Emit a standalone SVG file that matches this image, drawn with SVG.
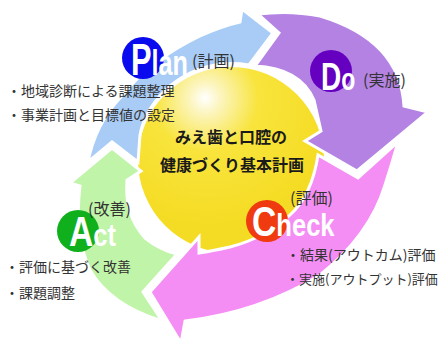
<svg xmlns="http://www.w3.org/2000/svg" width="439" height="344" viewBox="0 0 439 344">
<defs>
<radialGradient id="yg" gradientUnits="userSpaceOnUse" cx="207" cy="100" r="125" fx="205" fy="98">
<stop offset="0" stop-color="#ffffff"/>
<stop offset="0.12" stop-color="#fcf5c0"/>
<stop offset="0.42" stop-color="#f8e43c"/>
<stop offset="1" stop-color="#f5dc24"/>
</radialGradient>
</defs>
<style>
.arr{stroke:#ffffff;stroke-width:3;stroke-linejoin:miter}
.jp{font-family:"Noto Sans CJK JP","Noto Sans CJK SC",sans-serif;fill:#333333}
.lst{font-size:14px}
.sub{font-size:16px}
.ttl{font-family:"Noto Sans CJK JP","Noto Sans CJK SC",sans-serif;font-size:16px;font-weight:bold;fill:#1a1a1a;text-anchor:middle}
.big{font-family:"Liberation Sans",Arial,sans-serif;font-weight:bold;fill:#ffffff}
</style>
<rect width="439" height="344" fill="#ffffff"/>
<g id="center">
<circle cx="231" cy="160" r="93" fill="url(#yg)"/>
</g>
<g id="connectors">
<path id="arrow-plan" class="arr" fill="#a8ccf6" d="M242,9 L273,33 L249,65 Q205,58 170,86 Q145,108 140,135 L138,162 L112,142 L88,162 Q95,125 120,98 Q150,60 200,36 Q222,26 240,22 Z"/>
<path id="arrow-do" class="arr" fill="#b382e3" d="M258,14 Q290,10 320,16 Q400,40 404,106 L428,112 L357,171 L305,141 L321,131 L314,100 Q300,68 255,66 L279,33 Z"/>
<path id="arrow-check" class="arr" fill="#f48ef4" d="M398,142 L358,178 L318,155 Q312,195 290,215 Q265,238 230,247 Q212,251 199,253 L199,237 L150,292 L181,343 L185,321 Q260,312 320,275 Q370,235 385,185 Q393,160 398,142 Z"/>
<path id="arrow-act" class="arr" fill="#c0f4a8" d="M112,148 L141,171 L127,180 Q124,215 145,238 Q160,250 177,254 L143,292 L162,321 Q110,305 90,270 Q74,235 80,186 L70,183 Z"/>
</g>
<g id="center-title">
<text class="ttl" x="231" y="143">みえ歯と口腔の</text>
<text class="ttl" x="232" y="171">健康づくり基本計画</text>
</g>
<g id="plan">
<circle cx="143" cy="58" r="21" fill="#0a0aee"/>
<text class="big" transform="translate(131,75) scale(0.7,1)"><tspan font-size="44">P</tspan><tspan font-size="36">lan</tspan></text>
<text class="jp sub" x="192" y="67">(計画)</text>
<text class="jp lst" x="7" y="96">・地域診断による課題整理</text>
<text class="jp lst" x="7" y="120">・事業計画と目標値の設定</text>
</g>
<g id="do">
<circle cx="331" cy="71" r="21" fill="#6600c0"/>
<text class="big" transform="translate(321,90) scale(0.72,1)"><tspan font-size="39">D</tspan><tspan font-size="32">o</tspan></text>
<text class="jp sub" x="363" y="86">(実施)</text>
</g>
<g id="check">
<circle cx="267" cy="221" r="21" fill="#f03a10"/>
<text class="big" transform="translate(252,236) scale(0.8,1)"><tspan font-size="42">C</tspan><tspan font-size="32">heck</tspan></text>
<text class="jp sub" x="290" y="204">(評価)</text>
<text class="jp lst" x="286" y="260">・結果(アウトカム)評価</text>
<text class="jp" x="286" y="284" font-size="13">・実施(アウトプット)評価</text>
</g>
<g id="act">
<circle cx="78" cy="231" r="21" fill="#10b01c"/>
<text class="big" transform="translate(69,246) scale(0.8,1)"><tspan font-size="42">A</tspan><tspan font-size="32">ct</tspan></text>
<text class="jp sub" x="88" y="215">(改善)</text>
<text class="jp lst" x="5" y="272">・評価に基づく改善</text>
<text class="jp lst" x="5" y="298">・課題調整</text>
</g>
</svg>
